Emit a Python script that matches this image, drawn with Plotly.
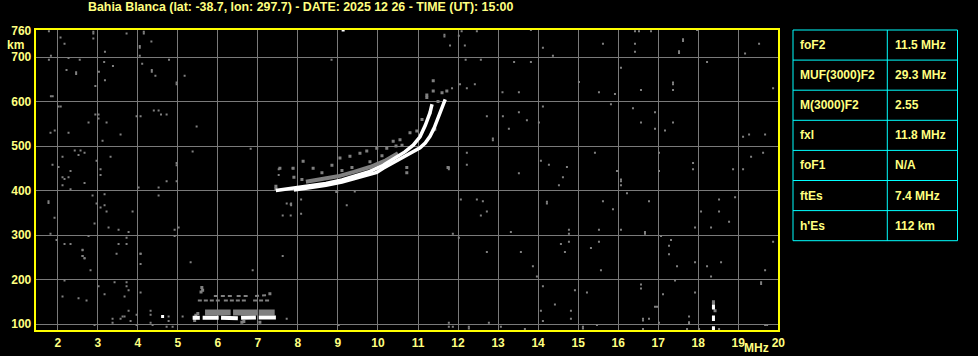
import plotly.graph_objects as go

W, H = 978, 356

title_text = "Bahia Blanca (lat: -38.7, lon: 297.7) - DATE: 2025 12 26 - TIME (UT): 15:00"

x_ticks = list(range(2, 21))
y_ticks = [100, 200, 300, 400, 500, 600, 700, 760]

table_names = ["foF2", "MUF(3000)F2", "M(3000)F2", "fxl", "foF1", "ftEs", "h'Es"]
table_values = ["11.5 MHz", "29.3 MHz", "2.55", "11.8 MHz", "N/A", "7.4 MHz", "112 km"]

# background noise echoes (MHz, km)
noise_f = [1.875, 2.075, 1.82, 1.925, 2.27, 2.77, 3.02, 3.02, 3.22, 3.12, 3.57, 4.07, 4.52, 4.72, 5.47, 5.37, 6.82,
           2.425, 2.57, 2.52, 2.67, 2.12, 1.87, 2.02, 2.32, 2.12, 2.17, 2.27, 2.12, 2.32, 2.67, 2.97, 3.07, 3.07,
           3.32, 4.97, 4.97, 4.72, 4.97, 4.02, 4.52, 4.52, 2.87, 3.17, 1.77, 1.77, 2.97, 3.07, 3.17, 3.22, 3.87, 1.92,
           2.92, 3.27, 3.52, 3.77, 4.92, 5.02, 1.82, 2.77, 1.97, 2.17, 2.32, 3.72, 3.52, 3.72, 4.92, 2.62, 2.62, 2.67,
           3.47, 4.07, 7.62, 7.52, 7.52, 7.72, 7.82, 7.62, 7.82, 7.87,
           12.02, 12.47, 13.82, 12.17, 12.57, 13.82, 14.12, 14.37, 15.62, 16.42, 16.52, 16.82, 16.42, 16.42, 17.62,
           17.62, 17.52, 17.52, 17.97, 19.52, 19.17, 18.22, 16.07, 12.22, 12.42, 13.52, 15.02, 15.52, 15.92, 16.57,
           17.37, 17.37, 17.37, 19.87, 14.12, 13.12, 13.52, 13.72, 13.27, 14.02, 12.87, 12.87, 15.82, 16.37, 16.92,
           16.57, 16.92, 17.37, 17.17, 19.12, 19.27, 19.67, 12.22, 12.22, 11.77, 11.77, 13.52, 14.07, 14.27, 14.72,
           14.62, 14.52, 15.42, 15.97, 16.07, 16.07, 16.07, 16.22, 17.02, 17.02, 17.87, 17.87, 18.87, 19.12, 19.32,
           19.62, 12.07, 12.47, 12.62, 12.72, 12.57, 14.22, 14.22, 15.62, 15.87, 16.77, 18.52, 18.92, 18.07, 18.52,
           18.77, 17.92, 18.32, 11.87, 12.02, 13.32, 14.77, 14.77, 14.77, 14.57, 14.67, 15.32, 15.52, 15.52, 16.07,
           16.67, 16.67, 17.07, 17.32, 17.27, 17.27, 12.72, 13.57, 19.87,
           13.87, 13.97, 15.57, 14.12, 14.92, 15.22, 14.42, 14.07, 14.82, 14.12, 14.82, 15.47, 15.12, 15.12, 13.67,
           17.47, 17.92, 18.22, 18.32, 18.57, 19.67, 17.42, 16.57, 16.57, 17.12, 17.92, 19.57, 19.57, 16.92, 16.97,
           16.62, 16.62, 16.77, 17.02, 17.77, 17.77, 17.77, 17.72, 18.02, 18.52, 16.62, 19.67, 19.72, 13.07,
           2.62, 2.62, 2.67, 4.07, 4.07, 2.82, 2.17, 3.02, 3.42, 3.72, 3.72, 3.77, 3.17, 3.67, 4.07, 2.12, 2.52, 2.72,
           5.32, 6.87, 3.77, 3.97, 4.32, 4.32, 3.37, 3.37, 3.57, 3.62, 3.67, 3.82, 4.32, 4.37, 3.97, 4.77, 4.77, 4.87,
           4.72, 5.12, 2.92, 7.72, 9.02, 11.77, 11.77, 11.87, 12.27, 12.27, 12.77,
           1.78, 2.07, 2.17, 2.89, 2.89, 2.89, 3.72, 4.15, 4.15, 4.34, 4.05, 4.05, 3.18, 1.78, 1.83, 2.27, 2.55, 3.16,
           3.38, 4.05, 4.11, 4.78, 2.22, 2.46, 2.46, 3.03, 3.18, 4.35, 4.35, 4.44, 5.17, 4.97, 4.97, 2.94, 1.83, 2.02,
           2.94, 3.97, 4.4, 4.58, 8.84, 11.66, 11.66, 11.8, 12.09, 12.19, 11.85, 12.05, 13.11, 13.4, 12.72,
           8.08, 8.08, 9.22, 9.42, 7.83, 7.83]
noise_h = [612, 589, 530, 535, 530, 553, 571, 562, 553, 512, 526, 567, 580, 571, 544, 488, 494,
           490, 490, 480, 485, 476, 458, 453, 444, 430, 426, 430, 412, 403, 417, 467, 448, 435,
           476, 462, 457, 421, 421, 407, 407, 389, 389, 392, 376, 372, 371, 362, 367, 353, 353, 339,
           326, 317, 312, 307, 312, 317, 303, 298, 289, 280, 280, 294, 280, 280, 298, 267, 253, 248,
           258, 258, 253, 448, 435, 371, 369, 344, 344, 450,
           748, 758, 761, 726, 694, 689, 721, 703, 730, 758, 758, 758, 730, 712, 740,
           736, 713, 709, 761, 730, 708, 689, 676, 630, 639, 621, 644, 621, 617, 626,
           643, 639, 626, 630, 589, 567, 576, 558, 539, 553, 517, 513, 594, 585, 576,
           553, 539, 553, 535, 521, 526, 526, 485, 458, 452, 448, 439, 467, 458, 453,
           430, 412, 485, 444, 425, 421, 412, 394, 444, 485, 462, 448, 448, 448, 476,
           485, 380, 380, 376, 353, 344, 375, 371, 376, 358, 376, 380, 385, 353, 353,
           330, 317, 317, 303, 294, 307, 312, 303, 285, 280, 262, 271, 312, 285, 312,
           307, 303, 298, 289, 276, 257, 262, 262, 285,
           230, 207, 221, 185, 176, 171, 144, 130, 130, 107, 112, 98, 94, 90, 89,
           230, 239, 230, 207, 239, 221, 198, 189, 180, 167, 171, 194, 190, 139, 139,
           112, 108, 112, 103, 117, 104, 100, 89, 89, 89, 89, 98, 98, 94,
           266, 253, 248, 258, 235, 221, 198, 185, 194, 194, 185, 176, 167, 162, 171, 162, 158, 153,
           239, 221, 130, 121, 130, 121, 112, 103, 112, 117, 117, 107, 103, 98, 98, 117, 107, 94,
           94, 117, 98, 112, 98, 103, 94, 94, 94, 90, 103,
           758, 744, 730, 757, 753, 742, 753, 757, 753, 735, 725, 721, 712, 694, 703, 698, 694, 689,
           680, 703, 685, 694, 671, 666, 662, 667, 648, 671, 667, 658, 658, 643, 639, 635, 612, 589,
           571, 567, 580, 571, 694, 750, 746, 726, 758, 694, 630, 639, 621, 689, 567,
           380, 348, 367, 398, 371, 367]

# ordinary / extraordinary F-layer traces
o_f = [7.45, 7.8, 8.3, 8.7, 9.1, 9.5, 9.8, 10.13, 10.47, 10.67, 10.88, 11.05, 11.18, 11.3, 11.35]
o_h = [400, 405, 411, 416, 424, 434, 443, 457, 475, 487, 502, 521, 546, 575, 594]
x_f = [7.9, 8.3, 8.7, 9.1, 9.5, 9.97, 10.13, 10.47, 10.8, 11.05, 11.18, 11.3, 11.4, 11.5, 11.6, 11.68]
x_h = [401, 406, 412, 419, 429, 441, 450, 467, 484, 496, 507, 522, 540, 562, 584, 605]

# weaker echoes along the F trace
fg_band_f = [8.2, 8.6, 9.0, 9.4, 9.8, 10.2, 10.5]
fg_band_h = [420, 425, 432, 442, 453, 468, 484]
fg_f = [7.55, 7.88, 8.13, 8.38, 8.85, 9.05, 9.3, 9.55, 9.72, 9.97, 10.22, 10.38, 10.55, 10.8, 10.97, 11.22,
        11.22, 11.38, 11.38, 11.72, 11.38, 11.42, 11.75, 10.72, 10.72, 8.97, 7.45, 7.45, 7.9, 8.1, 8.6, 9.1,
        9.35, 9.8, 10.1, 10.3, 10.45, 10.6, 11.1, 11.5, 11.6, 11.3]
fg_h = [450, 450, 466, 450, 457, 473, 477, 484, 489, 495, 495, 511, 514, 530, 534, 609,
        615, 647, 624, 624, 536, 538, 452, 440, 452, 398, 404, 410, 430, 425, 440, 445,
        452, 465, 478, 472, 500, 502, 560, 600, 620, 575]

# sporadic E traces
esw_f = [5.37, 5.55, None, 5.62, 6.02, None, 6.08, 6.5, None, 6.58, 6.95, None, 7.02, 7.45]
esw_h = [114, 114, None, 114, 114, None, 114, 113, None, 114, 115, None, 115, 115]
esg_f = [5.68, 6.32, None, 6.38, 6.98, None, 7.02, 7.42]
esg_h = [126, 126, None, 126, 126, None, 126, 126]
esd1_f = [5.5, 6.05, None, 6.15, 6.72, None, 6.88, 7.28]
esd1_h = [153, 153, None, 153, 153, None, 153, 153]
esd2_f = [5.9, 6.37, None, 6.47, 6.75, None, 6.93, 7.25]
esd2_h = [163, 163, None, 163, 163, None, 163, 165]
esg_pts_f = [5.6, 5.62, 5.58, 5.45, 5.5, 6.6, 6.65, 7.05, 7.3, 5.42]
esg_pts_h = [182, 176, 172, 120, 124, 104, 106, 104, 168, 108]

# isolated strong echoes
white_f = [9.13, 4.62, 18.38, 18.38, 18.38, 18.38, 18.38, 18.38]
white_h = [761, 117, 140, 136, 116, 110, 92, 88]
spike_gray_f = [18.38, 18.38, 18.42]
spike_gray_h = [150, 146, 130]

BG = "#000000"
GRID = "#7a7a7a"
GRAY = "#808080"
YEL = "#ffff00"
TXT = "#ffff80"
CYAN = "#00ffff"
FONT = "Liberation Sans"

fig = go.Figure()

sq = dict(symbol="square", line=dict(width=0))
fig.add_trace(go.Scatter(x=noise_f, y=noise_h, mode="markers", marker=dict(size=2, color=GRAY, **sq)))
fig.add_trace(go.Scatter(x=fg_band_f, y=fg_band_h, mode="lines", line=dict(color=GRAY, width=4)))
fig.add_trace(go.Scatter(x=fg_f, y=fg_h, mode="markers", marker=dict(size=3, color=GRAY, **sq)))
fig.add_trace(go.Scatter(x=esg_f, y=esg_h, mode="lines", line=dict(color=GRAY, width=6)))
fig.add_trace(go.Scatter(x=esd1_f, y=esd1_h, mode="lines", line=dict(color=GRAY, width=2, dash="4px,2px")))
fig.add_trace(go.Scatter(x=esd2_f, y=esd2_h, mode="lines", line=dict(color=GRAY, width=2, dash="4px,3px")))
fig.add_trace(go.Scatter(x=esg_pts_f, y=esg_pts_h, mode="markers", marker=dict(size=3, color=GRAY, **sq)))
fig.add_trace(go.Scatter(x=spike_gray_f, y=spike_gray_h, mode="markers", marker=dict(size=3, color=GRAY, **sq)))
fig.add_trace(go.Scatter(x=esw_f, y=esw_h, mode="lines", line=dict(color="#ffffff", width=4)))
fig.add_trace(go.Scatter(x=o_f, y=o_h, mode="lines", line=dict(color="#ffffff", width=3.5)))
fig.add_trace(go.Scatter(x=x_f, y=x_h, mode="lines", line=dict(color="#ffffff", width=3.5)))
fig.add_trace(go.Scatter(x=white_f, y=white_h, mode="markers", marker=dict(size=3, color="#ffffff", **sq)))

# plot area in pixels
L, R, T, B = 35.7, 778.3, 29.5, 330.3


def px(x):
    return x / W


def py(y):
    return 1 - y / H


tick_font = dict(family=FONT, size=12, color=TXT, weight="bold")
axis_common = dict(showline=True, linecolor=YEL, linewidth=2, mirror=True,
                   showgrid=True, gridcolor=GRID, gridwidth=1, zeroline=False,
                   ticks="", tickfont=tick_font, fixedrange=True, automargin=False)

fig.update_layout(
    width=W, height=H, autosize=False,
    paper_bgcolor=BG, plot_bgcolor=BG,
    margin=dict(l=0, r=0, t=0, b=0, pad=0, autoexpand=False),
    showlegend=False,
    xaxis=dict(range=[1.45, 20], domain=[px(L), px(R)], tickvals=x_ticks,
               ticktext=[str(v) for v in x_ticks], **axis_common),
    yaxis=dict(range=[86, 762], domain=[py(B), py(T)], tickvals=y_ticks,
               ticktext=[str(v) for v in y_ticks], **axis_common),
)

ann_font = dict(family=FONT, size=12, color=TXT, weight="bold")
fig.add_annotation(text=title_text, x=px(300), y=py(7), xref="paper", yref="paper",
                   xanchor="center", yanchor="middle", showarrow=False,
                   font=dict(family=FONT, size=12.4, color=TXT, weight="bold"))
fig.add_annotation(text="km", x=px(5), y=py(45), xref="paper", yref="paper",
                   xanchor="left", yanchor="middle", showarrow=False, font=ann_font)
fig.add_annotation(text="MHz", x=px(771), y=py(348), xref="paper", yref="paper",
                   xanchor="right", yanchor="middle", showarrow=False, font=ann_font)

# parameter table
tx0, tx1, txm = 793, 957.5, 887.3
ty0, row_h = 30, 30.1
n = len(table_names)
line = dict(color=CYAN, width=1)
fig.add_shape(type="rect", xref="paper", yref="paper", x0=px(tx0), x1=px(tx1),
              y0=py(ty0), y1=py(ty0 + n * row_h), line=line, fillcolor="rgba(0,0,0,0)")
fig.add_shape(type="line", xref="paper", yref="paper", x0=px(txm), x1=px(txm),
              y0=py(ty0), y1=py(ty0 + n * row_h), line=line)
for i in range(1, n):
    fig.add_shape(type="line", xref="paper", yref="paper", x0=px(tx0), x1=px(tx1),
                  y0=py(ty0 + i * row_h), y1=py(ty0 + i * row_h), line=line)
for i, (name, val) in enumerate(zip(table_names, table_values)):
    yc = ty0 + (i + 0.5) * row_h
    fig.add_annotation(text=name, x=px(798), y=py(yc), xref="paper", yref="paper",
                       xanchor="left", yanchor="middle", showarrow=False, font=ann_font)
    fig.add_annotation(text=val, x=px(893), y=py(yc), xref="paper", yref="paper",
                       xanchor="left", yanchor="middle", showarrow=False, font=ann_font)

fig.write_html("out.html", config={"displayModeBar": False})
